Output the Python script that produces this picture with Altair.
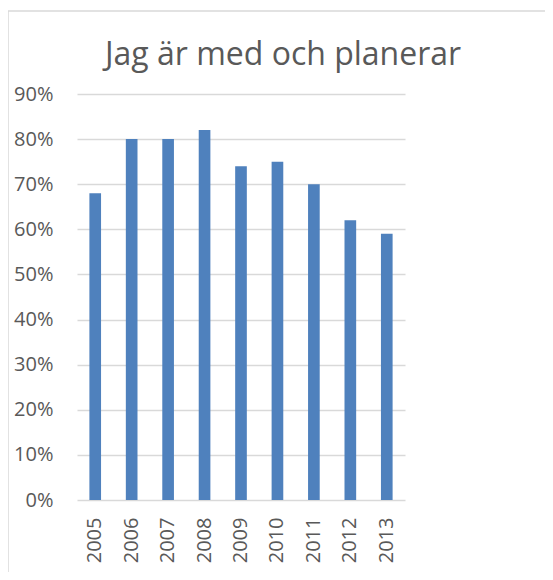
import altair as alt
import pandas as pd

years = ["2005", "2006", "2007", "2008", "2009", "2010", "2011", "2012", "2013"]
values = [68, 80, 80, 82, 74, 75, 70, 62, 59]
y_ticks = [0, 10, 20, 30, 40, 50, 60, 70, 80, 90]
title_text = "Jag är med och planerar"

df = pd.DataFrame({"year": years, "value": values})

FONT = "Open Sans"
GREY = "#595959"

border = alt.Chart(alt.Data(values=[{}])).mark_rect(
    fill="transparent", stroke="#d9d9d9", strokeWidth=1.5
).encode(
    x=alt.value(-69), x2=alt.value(800),
    y=alt.value(-83), y2=alt.value(800),
)

title = alt.Chart(alt.Data(values=[{"t": title_text}])).mark_text(
    font=FONT, fontSize=32, color=GREY, align="center", baseline="alphabetic"
).encode(
    text="t:N", x=alt.value(206), y=alt.value(-29),
)

bars = alt.Chart(df).mark_bar(color="#4F81BD").encode(
    x=alt.X("year:N", sort=years, title=None,
            scale=alt.Scale(paddingInner=0.68, paddingOuter=0.34),
            axis=alt.Axis(labelAngle=270, labelPadding=17, ticks=False, domain=False,
                          labelFontSize=20, labelFont=FONT, labelColor=GREY, grid=False)),
    y=alt.Y("value:Q", title=None,
            scale=alt.Scale(domain=[0, 90], nice=False),
            axis=alt.Axis(values=y_ticks, labelExpr="datum.value + '%'", ticks=False,
                          domain=False, labelPadding=24, labelFontSize=20, labelFont=FONT,
                          labelColor=GREY, grid=True, gridColor="#d9d9d9", gridWidth=1.5)),
)

chart = alt.layer(border, bars, title).properties(
    width=328,
    height=406,
    autosize=alt.AutoSizeParams(type="none"),
    padding={"left": 69, "top": 86, "right": 140, "bottom": 72},
).configure_view(stroke=None)

chart.save("out.html", embed_options={"renderer": "svg", "actions": False})
